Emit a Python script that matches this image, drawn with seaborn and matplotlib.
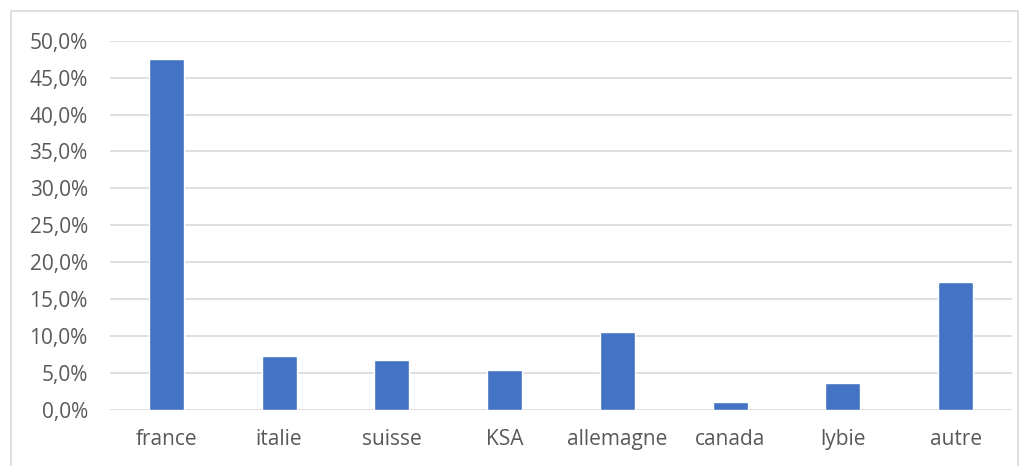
import matplotlib
matplotlib.use("Agg")
import matplotlib.pyplot as plt
import matplotlib.ticker as mticker
from matplotlib.patches import Rectangle
import pandas as pd
import seaborn as sns

countries = ["france", "italie", "suisse", "KSA", "allemagne", "canada", "lybie", "autre"]
shares = [47.5, 7.35, 6.8, 5.35, 10.55, 1.1, 3.6, 17.3]

df = pd.DataFrame({"pays": countries, "part": shares})

sns.set_style("white")
plt.rcParams["font.family"] = ["Open Sans", "DejaVu Sans"]

W, H = 1027, 466
fig = plt.figure(figsize=(W / 100, H / 100), dpi=100)

# outer chart frame
fig.patches.append(Rectangle((11 / W, -0.05), (1018 - 11) / W, 1.05 - 11 / H,
                             transform=fig.transFigure, fill=False,
                             edgecolor="#d9d9d9", linewidth=1.2))

ax = fig.add_axes([110 / W, 56 / H, (1012 - 110) / W, (410 - 40.7) / H])

sns.barplot(data=df, x="pays", y="part", color="#4472C4", width=0.31,
            saturation=1, ax=ax, zorder=3)

ax.set_ylim(0, 50)
ax.set_xlim(-0.5, len(countries) - 0.5)
ax.yaxis.set_major_locator(mticker.MultipleLocator(5))
ax.yaxis.set_major_formatter(mticker.FuncFormatter(lambda v, p: f"{v:.1f}%".replace(".", ",")))
ax.grid(axis="y", color="#d9d9d9", linewidth=1.2, zorder=0)
ax.set_axisbelow(True)
for s in ax.spines.values():
    s.set_visible(False)
ax.tick_params(axis="both", length=0, labelsize=15, colors="#595959")
ax.tick_params(axis="y", pad=16)
ax.tick_params(axis="x", pad=14)
ax.set_xlabel("")
ax.set_ylabel("")

fig.savefig("out.png", dpi=100)
